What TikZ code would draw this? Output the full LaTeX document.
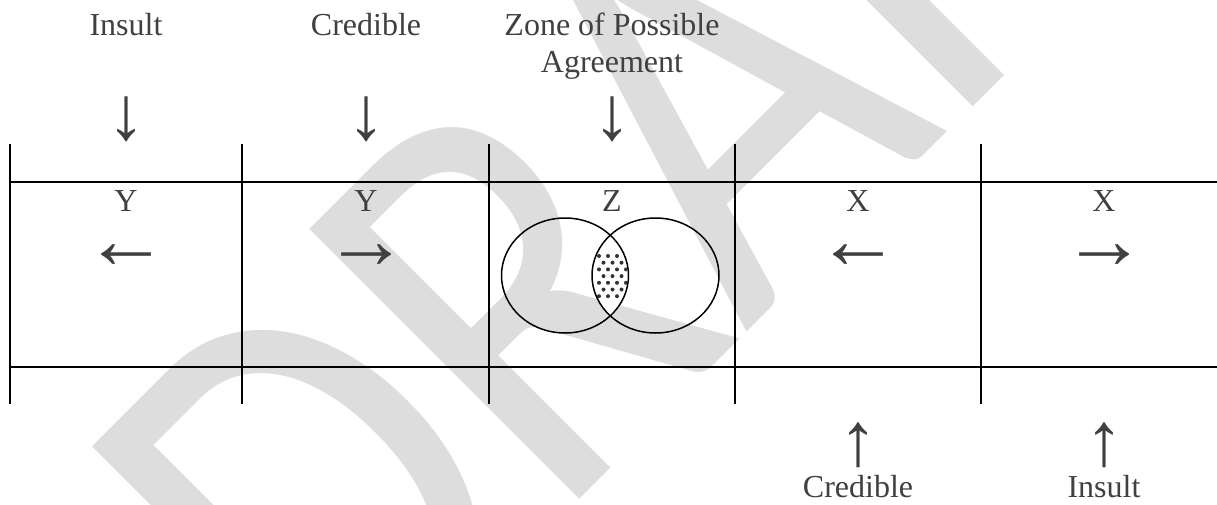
\documentclass[tikz,border=0pt]{standalone}
\usepackage{fontspec}
\setmainfont{Liberation Serif}
\newfontfamily\wmfont{Carlito}
\definecolor{txt}{RGB}{64,64,64}
\definecolor{wmgray}{RGB}{221,221,221}
\begin{document}
\begin{tikzpicture}[x=0.5pt,y=-0.5pt,
  lbl/.style={inner sep=0pt, text=txt, font=\fontsize{16}{18.5}\selectfont, anchor=base, align=center},
  harrow/.style={inner sep=0pt, text=txt, font=\fontsize{42}{42}\selectfont, anchor=center},
  varrow/.style={inner sep=0pt, text=txt, font=\fontsize{38}{38}\selectfont, anchor=center},
  gridline/.style={line width=0.75pt, draw=black},
  watermark/.style={inner sep=0pt, text=wmgray, anchor=base west, font=\wmfont\fontsize{297.5}{297.5}\selectfont}]
\useasboundingbox (0,0) rectangle (1217,504);
\clip (0,0) rectangle (1217,504);
\fill[white] (0,0) rectangle (1217,504);
% watermark
\begin{scope}[shift={(338.6,741)}, rotate=45, xscale=0.835, transform shape]
  \node[watermark] (wm) at (0,0) {DRAFT};
\end{scope}
% grid coordinates
\foreach \n/\x in {a/10,b/242,c/489,d/735,e/981}{
  \coordinate (\n top) at (\x,144);
  \coordinate (\n bot) at (\x,404);
  \draw[gridline] (\n top) -- (\n bot);
}
\coordinate (h1l) at (10,182); \coordinate (h1r) at (1217,182);
\coordinate (h2l) at (10,367); \coordinate (h2r) at (1217,367);
\draw[gridline] (h1l) -- (h1r);
\draw[gridline] (h2l) -- (h2r);
% top labels
\node[lbl] (t1) at (126,35) {Insult};
\node[lbl] (t2) at (366,35) {Credible};
\node[lbl] (t3) at (612,72) {Zone of Possible\\Agreement};
\node[varrow] (da1) at (126,119) {↓};
\node[varrow] (da2) at (366,119) {↓};
\node[varrow] (da3) at (612,119) {↓};
% row letters
\node[lbl] (c1) at (126,211) {Y};
\node[lbl] (c2) at (366,211) {Y};
\node[lbl] (c3) at (612,211) {Z};
\node[lbl] (c4) at (858,211) {X};
\node[lbl] (c5) at (1104,211) {X};
% horizontal arrows
\node[harrow] (ha1) at (126,257) {←};
\node[harrow] (ha2) at (366,257) {→};
\node[harrow] (ha4) at (858,257) {←};
\node[harrow] (ha5) at (1104,257) {→};
% venn
\begin{scope}
  \clip (565,275.5) ellipse [x radius=63.5, y radius=57.5];
  \clip (655.5,275.5) ellipse [x radius=63.5, y radius=57.5];
  \fill[white] (585,210) rectangle (640,340);
  \clip (596,252) rectangle (627,298);
  \foreach \r in {0,...,6}{
    \foreach \c in {0,...,3}{
      \fill[black!80] ({599+\c*9+mod(\r,2)*4.5},{256+\r*6.7}) circle (2);
    }
  }
\end{scope}
\draw[line width=0.75pt] (565,275.5) ellipse [x radius=63.5, y radius=57.5];
\draw[line width=0.75pt] (655.5,275.5) ellipse [x radius=63.5, y radius=57.5];
% bottom
\node[varrow] (ua4) at (858,445) {↑};
\node[varrow] (ua5) at (1104,445) {↑};
\node[lbl] (b4) at (858,497) {Credible};
\node[lbl] (b5) at (1104,497) {Insult};
\end{tikzpicture}
\end{document}
